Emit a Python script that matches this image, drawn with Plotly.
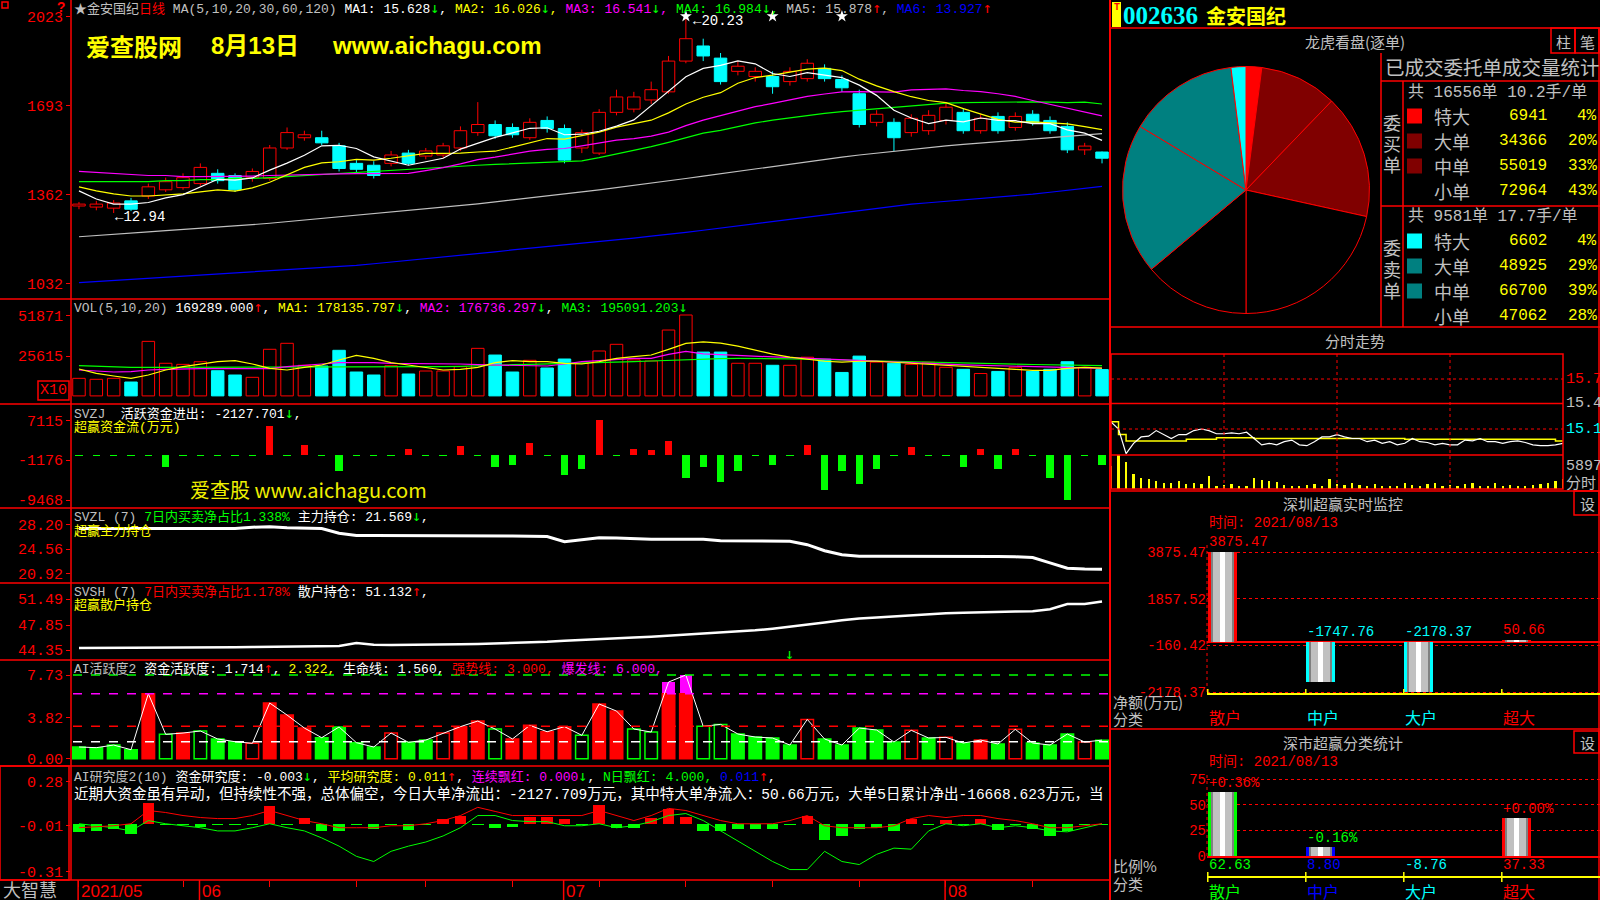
import plotly.graph_objects as go

# ======================= DATA =======================
month_labels = ["2021/05", "06", "07", "08"]
month_start = [0, 7, 28, 50]
week_ticks = [0, 6, 11, 16, 20, 25, 30, 35, 40, 45, 50, 55]

open_ = [13.20, 13.16, 13.12, 13.39, 13.57, 13.80, 13.88, 14.03, 14.41, 14.33,
         14.25, 14.22, 15.35, 15.73, 15.73, 15.43, 14.78, 14.71, 14.78, 15.16,
         15.05, 15.09, 15.35, 15.92, 16.22, 16.11, 15.73, 16.37, 16.07, 15.35,
         15.16, 16.67, 16.79, 17.13, 17.43, 18.57, 19.13, 18.68, 18.19, 18.00,
         18.00, 17.81, 17.92, 18.30, 17.89, 17.36, 16.30, 16.30, 15.92, 15.99,
         16.37, 16.67, 15.99, 16.52, 16.11, 16.60, 16.37, 16.15, 15.28, 15.20]
high_ = [13.35, 13.39, 13.42, 13.50, 14.03, 14.25, 14.41, 14.78, 14.56, 14.41,
         14.59, 15.46, 16.11, 15.99, 15.99, 15.54, 14.90, 14.86, 15.24, 15.28,
         15.35, 15.54, 16.15, 17.05, 16.37, 16.26, 16.45, 16.52, 16.22, 16.03,
         16.79, 17.51, 17.43, 17.81, 18.76, 20.23, 19.40, 18.87, 18.57, 18.34,
         18.19, 18.34, 18.64, 18.45, 18.04, 17.51, 16.75, 16.45, 16.60, 16.75,
         17.05, 16.83, 16.60, 16.67, 16.67, 16.75, 16.52, 16.30, 15.54, 15.22]
low_ = [13.08, 13.04, 12.94, 13.01, 13.46, 13.72, 13.80, 13.95, 14.03, 13.72,
        14.10, 14.14, 15.28, 15.62, 15.46, 14.48, 14.41, 14.22, 14.67, 14.71,
        14.93, 14.97, 15.24, 15.80, 15.69, 15.73, 15.65, 15.92, 14.78, 15.16,
        15.09, 16.56, 16.67, 16.98, 17.36, 18.49, 18.57, 17.70, 18.04, 17.81,
        17.36, 17.66, 17.81, 17.81, 17.43, 16.11, 16.15, 15.24, 15.77, 15.84,
        16.22, 15.88, 15.88, 15.88, 15.99, 16.18, 15.88, 15.16, 15.09, 14.78]
close_ = [13.27, 13.27, 13.31, 13.08, 13.91, 14.10, 14.25, 14.63, 14.14, 13.80,
          14.48, 15.35, 15.92, 15.84, 15.54, 14.59, 14.56, 14.33, 15.09, 14.78,
          15.24, 15.43, 15.99, 16.22, 15.80, 15.84, 16.30, 16.07, 14.90, 15.92,
          16.67, 17.24, 17.24, 17.51, 18.57, 19.40, 18.76, 17.81, 18.38, 18.19,
          17.62, 18.19, 18.49, 17.92, 17.58, 16.22, 16.60, 15.73, 16.45, 16.56,
          16.86, 15.99, 16.45, 15.99, 16.52, 16.30, 15.99, 15.28, 15.42, 14.97]

ma5 = [13.76, 13.46, 13.27, 13.27, 13.33, 13.50, 13.62, 13.92, 14.19, 14.16,
       14.24, 14.53, 14.79, 15.08, 15.43, 15.45, 15.33, 15.02, 14.87, 14.71,
       14.84, 14.97, 15.31, 15.53, 15.74, 15.91, 16.08, 16.10, 15.84, 15.86,
       15.97, 16.16, 16.39, 16.92, 17.45, 17.99, 18.30, 18.41, 18.58, 18.47,
       18.11, 18.00, 18.14, 18.04, 17.96, 17.68, 17.30, 16.75, 16.46, 16.25,
       16.38, 16.32, 16.46, 16.37, 16.36, 16.25, 16.25, 16.02, 15.90, 15.63]
ma10 = [13.91, 13.76, 13.65, 13.57, 13.57, 13.61, 13.65, 13.72, 13.80, 13.75,
        13.87, 14.08, 14.36, 14.63, 14.80, 14.84, 14.93, 14.90, 14.97, 15.07,
        15.15, 15.15, 15.16, 15.20, 15.23, 15.38, 15.53, 15.70, 15.68, 15.80,
        15.94, 16.12, 16.25, 16.38, 16.65, 16.98, 17.23, 17.40, 17.75, 17.96,
        18.05, 18.15, 18.27, 18.31, 18.22, 17.90, 17.65, 17.44, 17.25, 17.11,
        17.03, 16.81, 16.61, 16.41, 16.31, 16.32, 16.28, 16.24, 16.14, 16.03]
ma20 = [14.48, 14.44, 14.41, 14.37, 14.33, 14.33, 14.29, 14.29, 14.29, 14.29,
        14.31, 14.33, 14.35, 14.37, 14.38, 14.39, 14.40, 14.40, 14.41, 14.41,
        14.51, 14.62, 14.76, 14.92, 15.01, 15.11, 15.23, 15.30, 15.33, 15.43,
        15.54, 15.64, 15.70, 15.79, 15.94, 16.18, 16.38, 16.55, 16.72, 16.88,
        17.00, 17.14, 17.26, 17.35, 17.43, 17.44, 17.44, 17.42, 17.50, 17.53,
        17.54, 17.48, 17.44, 17.36, 17.26, 17.11, 16.97, 16.84, 16.69, 16.54]
ma30 = [14.10, 14.10, 14.10, 14.10, 14.10, 14.14, 14.14, 14.18, 14.18, 14.22,
        14.22, 14.25, 14.29, 14.33, 14.37, 14.41, 14.44, 14.48, 14.52, 14.56,
        14.59, 14.63, 14.67, 14.71, 14.74, 14.77, 14.80, 14.82, 14.85, 14.87,
        14.99, 15.12, 15.25, 15.40, 15.56, 15.73, 15.90, 16.00, 16.14, 16.28,
        16.38, 16.47, 16.56, 16.63, 16.70, 16.75, 16.80, 16.85, 16.89, 16.95,
        17.01, 17.03, 17.04, 17.03, 17.06, 17.06, 17.05, 17.03, 17.05, 16.98]
ma60 = [12.06, 12.10, 12.15, 12.19, 12.24, 12.29, 12.33, 12.38, 12.42, 12.47,
        12.51, 12.56, 12.62, 12.67, 12.72, 12.78, 12.84, 12.90, 12.96, 13.02,
        13.08, 13.15, 13.21, 13.28, 13.35, 13.42, 13.50, 13.57, 13.65, 13.72,
        13.80, 13.88, 13.97, 14.05, 14.14, 14.22, 14.31, 14.40, 14.49, 14.58,
        14.67, 14.75, 14.84, 14.92, 15.01, 15.09, 15.16, 15.22, 15.29, 15.36,
        15.43, 15.48, 15.53, 15.59, 15.64, 15.69, 15.74, 15.79, 15.84, 15.88]
ma120 = [10.36, 10.40, 10.44, 10.48, 10.51, 10.55, 10.59, 10.62, 10.66, 10.70,
         10.74, 10.78, 10.83, 10.87, 10.91, 10.96, 11.00, 11.06, 11.12, 11.19,
         11.25, 11.31, 11.38, 11.44, 11.50, 11.57, 11.63, 11.69, 11.76, 11.82,
         11.88, 11.95, 12.01, 12.08, 12.14, 12.22, 12.30, 12.38, 12.46, 12.54,
         12.62, 12.70, 12.78, 12.86, 12.94, 13.02, 13.11, 13.19, 13.27, 13.32,
         13.37, 13.42, 13.47, 13.52, 13.57, 13.64, 13.71, 13.78, 13.85, 13.93]
ma_names = ["MA1", "MA2", "MA3", "MA4", "MA5", "MA6"]
ma_last = ["15.628", "16.026", "16.541", "16.984", "15.878", "13.927"]
ma_dirs = ["↓", "↓", "↓", "↓", "↑", "↑"]
star_days = [40, 44]

price_ticks = [20.23, 16.93, 13.62, 10.32]
price_tick_text = ["2023", "1693", "1362", "1032"]

volume = [11300, 10680, 11300, 8940, 35100, 21000, 20300, 22000, 16200, 13450,
          11960, 30000, 33850, 19700, 19240, 29340, 15380, 13450, 19430, 14100,
          16020, 16020, 18800, 30600, 26300, 15380, 22900, 17950, 23750, 21000,
          28900, 33200, 23200, 22460, 42400, 52060, 28200, 28200, 21000, 21000,
          19700, 19700, 24900, 23600, 15100, 25600, 21700, 21000, 20300, 21700,
          18400, 17100, 14400, 15750, 18400, 15750, 17100, 22000, 18400, 16929]
vol_ma5 = [17310, 14540, 12800, 11300, 13450, 16670, 18800, 20530, 22030, 22670,
           20530, 17740, 16670, 18380, 19880, 23100, 26100, 24180, 21380, 19880,
           18380, 16670, 17100, 18380, 21380, 22670, 22030, 22030, 20960, 20530,
           22030, 24180, 25240, 26320, 29970, 33830, 34800, 34000, 32000, 29500,
           26900, 24900, 23600, 22300, 21700, 22300, 22300, 21700, 21000, 20300,
           19700, 19000, 18400, 17700, 17100, 16400, 16400, 17700, 18400, 17814]
vol_ma10 = [16670, 16030, 15380, 15600, 16670, 17100, 17530, 17530, 17530, 17530,
            17530, 17530, 18800, 19880, 20530, 21380, 21600, 21380, 20960, 20960,
            20960, 20960, 20530, 20100, 19880, 19240, 19240, 19240, 20530, 22030,
            22670, 23530, 24180, 24180, 26750, 28680, 27000, 26500, 26000, 25500,
            25000, 24500, 24000, 23500, 23000, 22500, 22000, 21500, 21000, 20700,
            20400, 20000, 19700, 19300, 19000, 18700, 18300, 18100, 17900, 17674]
vol_ma20 = [19450, 19000, 18600, 18380, 18380, 18380, 18380, 18380, 18600, 18810,
            18810, 18810, 18810, 18810, 18380, 18380, 18380, 18380, 18380, 18380,
            18600, 18810, 19000, 19450, 19880, 20100, 20300, 20530, 20750, 20960,
            21380, 21600, 22030, 22460, 22900, 23530, 23800, 24000, 24100, 24100,
            24000, 23800, 23600, 23300, 23000, 22700, 22400, 22100, 21800, 21500,
            21200, 21000, 20800, 20600, 20400, 20200, 20000, 19800, 19650, 19509]
vol_ticks = [51871, 25615]

svzj = [-400, -400, -400, -400, -400, -2550, -400, -400, -400, -400,
        -400, 5850, -400, 2000, -400, -3500, -400, -400, -400, 1170,
        -400, -400, 1800, -400, -2650, -2230, 2450, -400, -4350, -3080,
        7115, -400, 1170, 950, 2870, -4780, -2650, -5630, -3500, -400,
        -2230, -400, 2000, -7330, -3500, -6060, -3080, -400, 1600, -400,
        -400, -2650, 1170, -3080, 1170, -400, -4780, -9468, -400, -2127.7]
svzj_ticks = [7115, -1176, -9468]

svzl = [27.60, 27.60, 27.62, 27.62, 27.60, 27.60, 27.62, 27.62, 27.60, 27.62,
        27.80, 27.85, 27.70, 27.65, 27.60, 26.90, 26.55, 26.55, 26.55, 26.50,
        26.55, 26.55, 26.60, 26.60, 26.55, 26.50, 26.45, 26.40, 25.65, 25.90,
        26.24, 26.20, 26.05, 26.00, 26.00, 26.05, 26.00, 25.80, 25.80, 25.75,
        25.75, 25.70, 25.20, 24.30, 23.70, 23.50, 23.50, 23.50, 23.55, 23.50,
        23.45, 23.50, 23.50, 23.45, 23.40, 23.30, 22.50, 21.70, 21.60, 21.569]
svzl_ticks = [28.20, 24.56, 20.92]

svsh = [44.63, 44.63, 44.63, 44.65, 44.65, 44.63, 44.65, 44.68, 44.70, 44.72,
        44.77, 44.80, 44.82, 44.85, 44.88, 44.92, 45.34, 45.10, 45.06, 45.06,
        45.06, 45.10, 45.15, 45.20, 45.25, 45.34, 45.40, 45.50, 45.64, 45.78,
        45.92, 46.00, 46.10, 46.21, 46.35, 46.49, 46.65, 46.80, 46.92, 47.10,
        47.34, 47.60, 47.92, 48.20, 48.50, 48.77, 48.90, 49.05, 49.21, 49.35,
        49.49, 49.55, 49.64, 49.70, 49.75, 49.78, 50.06, 50.78, 50.78, 51.13]
svsh_ticks = [51.49, 47.85, 44.35]

ai_active = [1.08, 1.02, 1.26, 0.83, 6.00, 2.25, 2.37, 2.56, 1.82, 1.57,
             1.42, 5.14, 4.03, 2.83, 1.94, 2.93, 1.48, 1.08, 2.37, 1.51,
             1.72, 2.37, 2.96, 3.48, 2.74, 1.82, 3.08, 2.49, 2.96, 2.16,
             5.05, 4.40, 2.74, 2.46, 7.08, 7.73, 2.99, 3.17, 2.28, 2.00,
             1.91, 1.26, 3.63, 1.82, 1.26, 2.83, 2.65, 1.54, 2.62, 1.91,
             1.97, 1.45, 1.72, 1.36, 2.71, 1.45, 1.26, 2.28, 1.54, 1.714]
ai_kind = ["G", "G", "G", "G", "R", "g", "R", "g", "G", "G",
           "r", "R", "R", "R", "G", "G", "G", "G", "r", "G",
           "G", "r", "R", "R", "g", "R", "R", "R", "R", "g",
           "R", "R", "g", "g", "R", "R", "g", "g", "G", "G",
           "G", "G", "r", "G", "G", "G", "G", "G", "r", "G",
           "r", "G", "R", "G", "r", "G", "G", "G", "r", "G"]
life_line, strong_line, burst_line, top_line = 1.560, 3.000, 6.000, 7.73
ai1_ticks = [7.73, 3.82, 0.00]
arrow_days = [41]

ai_research = [-0.050, -0.044, -0.030, -0.064, 0.137, -0.008, -0.008, -0.017, -0.008, -0.008,
               -0.008, 0.117, -0.008, 0.044, -0.044, -0.044, -0.008, -0.030, -0.008, -0.037,
               -0.008, 0.037, 0.057, -0.008, -0.023, -0.017, 0.050, 0.050, 0.037, -0.008,
               0.124, -0.023, -0.023, 0.044, 0.097, 0.050, -0.044, -0.044, -0.030, -0.030,
               -0.030, -0.008, 0.057, -0.104, -0.077, -0.030, -0.023, -0.044, 0.037, -0.008,
               0.030, -0.008, 0.037, -0.037, -0.008, -0.030, -0.077, -0.044, -0.008, -0.006]
research_green = [0.003, -0.010, -0.023, -0.044, 0.024, 0.003, -0.010, -0.023, -0.044, -0.044,
                  -0.023, 0.003, -0.023, -0.044, -0.090, -0.144, -0.211, -0.245, -0.178, -0.144,
                  -0.117, -0.077, -0.023, 0.057, 0.057, 0.024, 0.017, 0.017, -0.010, -0.010,
                  0.003, -0.023, -0.010, 0.017, 0.057, 0.070, 0.024, -0.044, -0.111, -0.178,
                  -0.245, -0.298, -0.298, -0.178, -0.245, -0.265, -0.198, -0.157, -0.164, -0.044,
                  0.003, -0.010, 0.003, -0.023, -0.010, -0.023, -0.044, -0.050, -0.023, 0.003]
research_red = [-0.023, -0.017, -0.010, 0.003, 0.090, 0.077, 0.057, 0.044, 0.037, 0.037,
                0.057, 0.090, 0.057, 0.024, 0.003, -0.023, -0.023, -0.023, -0.010, -0.010,
                0.003, 0.024, 0.057, 0.111, 0.084, 0.057, 0.057, 0.057, 0.057, 0.057,
                0.090, 0.057, 0.024, 0.057, 0.104, 0.090, 0.057, 0.024, 0.003, 0.003,
                0.003, 0.024, 0.057, -0.010, -0.023, -0.023, -0.023, -0.010, 0.037, 0.057,
                0.044, 0.057, 0.057, 0.037, 0.024, 0.003, -0.023, -0.023, -0.010, 0.003]
ai2_ticks = [0.28, -0.01, -0.31]

# right side
stock_code = "002636"
stock_name = "金安国纪"
order_labels = ["特大", "大单", "中单", "小单"]
buy_counts = [6941, 34366, 55019, 72964]
buy_pct = ["4%", "20%", "33%", "43%"]
sell_counts = [6602, 48925, 66700, 47062]
sell_pct = ["4%", "29%", "39%", "28%"]
buy_summary = "共 16556单 10.2手/单"
sell_summary = "共 9581单 17.7手/单"

tick_price = [15.19, 15.10, 14.79, 14.92, 15.00, 15.01, 15.08, 15.03, 14.98, 15.03,
              15.03, 15.08, 15.10, 15.08, 15.04, 15.04, 15.05, 15.04, 15.06, 14.98,
              14.90, 14.92, 14.90, 14.94, 14.96, 14.90, 14.89, 14.94, 15.00, 15.00,
              15.03, 15.00, 14.98, 14.98, 14.94, 14.96, 14.92, 14.94, 14.90, 14.92,
              14.98, 14.94, 14.93, 14.90, 14.92, 14.90, 14.90, 14.96, 14.95, 14.98,
              14.94, 14.94, 14.92, 14.94, 14.95, 14.93, 14.90, 14.89, 14.89, 14.90,
              14.92]
avg_price = [15.19, 15.03, 14.95, 14.95, 14.95, 14.95, 14.95, 14.95, 14.95, 14.95,
             14.97, 14.97, 14.97, 14.97, 14.99, 14.99, 14.99, 14.99, 14.99, 14.98,
             14.98, 14.98, 14.98, 14.98, 14.98, 14.98, 14.98, 14.98, 14.98, 14.98,
             14.98, 14.98, 14.98, 14.98, 14.98, 14.98, 14.98, 14.98, 14.98, 14.97,
             14.97, 14.97, 14.97, 14.97, 14.97, 14.97, 14.97, 14.97, 14.97, 14.97,
             14.97, 14.97, 14.97, 14.97, 14.97, 14.97, 14.97, 14.97, 14.97, 14.95,
             14.95]
tick_vol = [3930, 5897, 4770, 2530, 1970, 1690, 1400, 1120, 1120, 1400,
            840, 1120, 840, 2250, 560, 670, 840, 560, 450, 1970,
            1570, 1400, 1240, 670, 560, 560, 670, 840, 560, 1690,
            840, 670, 1120, 670, 450, 840, 560, 450, 560, 1120,
            670, 560, 840, 1120, 450, 670, 560, 840, 1120, 560,
            450, 1120, 560, 670, 450, 560, 670, 840, 1120, 1400,
            1690]
intraday_levels = [15.73, 15.42, 15.10]

net_cats = ["散户", "中户", "大户", "超大"]
sz_net = [3875.47, -1747.76, -2178.37, 50.66]
sz_ticks = [3875.47, 1857.52, -160.42, -2178.37]
ss_ratio = [62.63, 8.80, -8.76, 37.33]
ss_change = ["+0.36%", "-0.16%", "", "+0.00%"]
ss_ticks = [0, 25, 50, 75]
report_date = "2021/08/13"

# ======================= HELPERS =======================
N = len(close_)
days = list(range(N))
W, H = 1600, 900


def PX(x):
    return x / W


def PY(y):
    return 1 - y / H


def lin_range(v1, p1, v2, p2, top, bot):
    k = (p2 - p1) / (v1 - v2)
    return [v2 - (bot - p2) / k, v1 + (p1 - top) / k]


RED = "#ff0000"; DRED = "#800000"; CYAN = "#00ffff"; TEAL = "#008080"
GREEN = "#00ff00"; YELLOW = "#ffff00"; MAGENTA = "#ff00ff"; WHITE = "#ffffff"
GRAY = "#c0c0c0"; BLUE = "#0000ff"; DGRAY = "#808080"; BLACK = "#000000"
MONO = "Liberation Mono, Noto Sans CJK SC, monospace"
CJK = "Noto Sans CJK SC, sans-serif"
NARROW = "Liberation Sans Narrow, Liberation Sans, sans-serif"

fig = go.Figure()
shapes, anns = [], []


def sp(t, c):
    return f'<span style="color:{c}">{t}</span>'


def ar(t, c):
    return f'<span style="color:{c};font-family:DejaVu Sans Mono;font-size:15px">{t}</span>'


def A(text, x, y, color=WHITE, size=13, family=MONO, xanchor="left", yanchor="middle",
      xref="paper", yref="paper", bold=False, yshift=0):
    anns.append(dict(text=text, x=PX(x) if xref == "paper" else x, y=PY(y) if yref == "paper" else y,
                     xref=xref, yref=yref, xanchor=xanchor, yanchor=yanchor, showarrow=False,
                     yshift=yshift, borderpad=0,
                     font=dict(color=color, size=size, family=family, weight="bold" if bold else "normal")))


def L(x0, y0, x1, y1, color=RED, width=1.5, dash="solid", xref="paper", yref="paper"):
    shapes.append(dict(type="line", xref=xref, yref=yref,
                       x0=PX(x0) if xref == "paper" else x0, x1=PX(x1) if xref == "paper" else x1,
                       y0=PY(y0) if yref == "paper" else y0, y1=PY(y1) if yref == "paper" else y1,
                       line=dict(color=color, width=width, dash=dash), layer="above"))


def RECT(x0, y0, x1, y1, color=RED, width=1.5, fill="rgba(0,0,0,0)"):
    shapes.append(dict(type="rect", xref="paper", yref="paper", x0=PX(x0), x1=PX(x1), y0=PY(y0), y1=PY(y1),
                       line=dict(color=color, width=width), fillcolor=fill, layer="above"))


def add(tr):
    tr.update(hoverinfo="skip", showlegend=False)
    fig.add_trace(tr)


# ======================= MAIN (LEFT) PANELS =======================
X_L, X_R = 71, 1110
axes = {}
axes["xaxis"] = dict(domain=[PX(X_L), PX(X_R)], range=[-0.46, N - 0.54], anchor="y7",
                     tickvals=week_ticks, ticks="outside", ticklen=6, tickcolor=RED, tickwidth=1,
                     showticklabels=False, showgrid=False, zeroline=False, showline=False,
                     fixedrange=True, automargin=False)
main_panels = [
    ("yaxis", 0, 299, lin_range(20.23, 16.3, 10.32, 283.7, 0, 299), price_ticks, price_tick_text),
    ("yaxis2", 299, 404, lin_range(51871, 315.3, 25615, 356.1, 299, 404), vol_ticks, [str(v) for v in vol_ticks]),
    ("yaxis3", 404, 508, lin_range(7115, 420.4, -9468, 500.0, 404, 508), svzj_ticks, [str(v) for v in svzj_ticks]),
    ("yaxis4", 508, 583, lin_range(28.20, 524.5, 20.92, 573.5, 508, 583), svzl_ticks, [f"{v:.2f}" for v in svzl_ticks]),
    ("yaxis5", 583, 660, lin_range(51.49, 599, 44.35, 650, 583, 660), svsh_ticks, [f"{v:.2f}" for v in svsh_ticks]),
    ("yaxis6", 660, 766, lin_range(7.73, 675, 0.0, 758.7, 660, 766), ai1_ticks, [f"{v:.2f}" for v in ai1_ticks]),
    ("yaxis7", 766, 880, lin_range(0.28, 781.6, -0.31, 871.4, 766, 880), ai2_ticks, [f"{v:.2f}" for v in ai2_ticks]),
]
for key, top, bot, rng, tv, tt in main_panels:
    axes[key] = dict(domain=[PY(bot), PY(top)], range=rng, anchor="x", tickvals=tv, ticktext=tt,
                     ticks="outside", ticklen=4, tickcolor=RED,
                     tickfont=dict(color=RED, size=15, family=MONO),
                     showgrid=False, zeroline=False, showline=False, fixedrange=True, automargin=False)

# --- candles ---
up = [c >= o for o, c in zip(open_, close_)]
for flag, col in ((True, RED), (False, CYAN)):
    xs, ys = [], []
    for i in days:
        if up[i] != flag:
            continue
        top, bot = max(open_[i], close_[i]), min(open_[i], close_[i])
        xs += [i, i, None, i, i, None]
        ys += [high_[i], top, None, bot, low_[i], None]
    add(go.Scatter(x=xs, y=ys, mode="lines", line=dict(color=col, width=1), xaxis="x", yaxis="y"))
    idx = [i for i in days if up[i] == flag]
    add(go.Bar(x=idx, base=[min(open_[i], close_[i]) for i in idx],
               y=[max(abs(close_[i] - open_[i]), 0.02) for i in idx], width=0.72,
               marker=dict(color=BLACK if flag else CYAN, line=dict(color=col, width=1)),
               xaxis="x", yaxis="y"))
for arr, col in ((ma120, BLUE), (ma60, GRAY), (ma30, GREEN), (ma20, MAGENTA), (ma10, YELLOW), (ma5, WHITE)):
    add(go.Scatter(x=days, y=arr, mode="lines", line=dict(color=col, width=1.2), xaxis="x", yaxis="y"))
i_hi = max(days, key=lambda i: high_[i])
i_lo = min(days, key=lambda i: low_[i])
add(go.Scatter(x=[i_hi] + star_days, y=[high_[i_hi]] * (1 + len(star_days)), mode="markers",
               marker=dict(symbol="star", size=9, color=WHITE), xaxis="x", yaxis="y"))
A(f"←{high_[i_hi]:.2f}", i_hi + 0.35, high_[i_hi], WHITE, 14, xref="x", yref="y", yshift=-5)
A(f"←{low_[i_lo]:.2f}", i_lo, low_[i_lo], WHITE, 14, xref="x", yref="y", yshift=-4)

# --- volume ---
for flag, col in ((True, RED), (False, CYAN)):
    idx = [i for i in days if up[i] == flag]
    add(go.Bar(x=idx, y=[volume[i] for i in idx], width=0.72,
               marker=dict(color=BLACK if flag else CYAN, line=dict(color=col, width=1)),
               xaxis="x", yaxis="y2"))
for arr, col in ((vol_ma20, GREEN), (vol_ma10, MAGENTA), (vol_ma5, YELLOW)):
    add(go.Scatter(x=days, y=arr, mode="lines", line=dict(color=col, width=1.2), xaxis="x", yaxis="y2"))

# --- SVZJ ---
add(go.Bar(x=days, y=svzj, width=0.42, marker=dict(color=[RED if v > 0 else GREEN for v in svzj], line=dict(width=0)),
           xaxis="x", yaxis="y3"))
# --- SVZL / SVSH ---
add(go.Scatter(x=days, y=svzl, mode="lines", line=dict(color=WHITE, width=3), xaxis="x", yaxis="y4"))
add(go.Scatter(x=days, y=svsh, mode="lines", line=dict(color=WHITE, width=2.5), xaxis="x", yaxis="y5"))

# --- AI活跃度 ---
burst_idx = [i for i in days if ai_active[i] > burst_line]
add(go.Bar(x=burst_idx, y=[ai_active[i] for i in burst_idx], width=0.72,
           marker=dict(color=MAGENTA, line=dict(width=0)), xaxis="x", yaxis="y6"))
kind_col = [RED if k in "Rr" else GREEN for k in ai_kind]
kind_fill = [c if k.isupper() else BLACK for k, c in zip(ai_kind, kind_col)]
add(go.Bar(x=days, y=[min(v, burst_line) for v in ai_active], width=0.72,
           marker=dict(color=kind_fill, line=dict(color=kind_col, width=1.5)), xaxis="x", yaxis="y6"))
add(go.Scatter(x=days, y=ai_active, mode="lines", line=dict(color=WHITE, width=1), xaxis="x", yaxis="y6"))
for lvl, col in ((top_line, GREEN), (burst_line, MAGENTA), (strong_line, RED), (life_line, WHITE)):
    L(X_L + 2, lvl, X_R - 2, lvl, color=col, width=1.5, dash="dash", yref="y6")
for d in arrow_days:
    A(ar("↓", GREEN), d, 654, GREEN, 15, xref="x", xanchor="center")

# --- AI研究度 ---
add(go.Bar(x=days, y=ai_research, width=0.66,
           marker=dict(color=[RED if v > 0 else GREEN for v in ai_research], line=dict(width=0)),
           xaxis="x", yaxis="y7"))
add(go.Scatter(x=days, y=research_green, mode="lines", line=dict(color=GREEN, width=1), xaxis="x", yaxis="y7"))
add(go.Scatter(x=days, y=research_red, mode="lines", line=dict(color=RED, width=1), xaxis="x", yaxis="y7"))

# --- main frame lines ---
for yy in (299, 404, 508, 583, 660, 766, 880):
    L(0, yy, X_R, yy, width=1.5)
L(X_L, 0, X_L, 880, width=1.5)
L(X_R, 0, X_R, 900, width=2)
RECT(0, 766, 69, 880)
RECT(38, 381, 69, 400)
A("X10", 53.5, 391, RED, 15, xanchor="center")
RECT(2, 2, 8, 8, width=1.5)
A("?", 61, 8, RED, 14, bold=True, xanchor="center")
for lbl, d in zip(month_labels, month_start):
    L(d - 0.05, 880, d - 0.05, 900, xref="x", width=1.5)
    A(lbl, d + 0.05, 891, RED, 17, family=NARROW, xref="x")
A("大智慧", 2, 889, GRAY, 18, family=CJK)

# --- headers ---
hdr = sp("★金安国纪", GRAY) + sp("日线", RED) + sp(" MA(5,10,20,30,60,120) ", GRAY)
ma_cols = [WHITE, YELLOW, MAGENTA, GREEN, GRAY, BLUE]
for k, (nm, v, d, c) in enumerate(zip(ma_names, ma_last, ma_dirs, ma_cols)):
    hdr += sp(f"{nm}: {v}", c) + ar(d, GREEN if d == "↓" else RED) + (sp(", ", c) if k < 5 else "")
A(hdr, 73, 8, GRAY, 13)
A("爱查股网", 85, 45, YELLOW, 24, family=CJK, bold=True)
A("8月13日", 210, 45, YELLOW, 24, family="Liberation Sans, Noto Sans CJK SC", bold=True)
A("www.aichagu.com", 331, 45, YELLOW, 24, family="Liberation Sans", bold=True)

A(sp("VOL(5,10,20) ", GRAY) + sp("169289.000", WHITE) + ar("↑", RED) + sp(", ", WHITE)
  + sp("MA1: 178135.797", YELLOW) + ar("↓", GREEN) + sp(", ", WHITE)
  + sp("MA2: 176736.297", MAGENTA) + ar("↓", GREEN) + sp(", ", WHITE)
  + sp("MA3: 195091.203", GREEN) + ar("↓", GREEN), 73, 307, GRAY, 13)
A(sp("SVZJ", GRAY) + sp("\u00a0\u00a0活跃资金进出: -2127.701", WHITE) + ar("↓", GREEN) + sp(",", WHITE), 73, 413, GRAY, 13)
A("超赢资金流(万元)", 73, 427, YELLOW, 13)
A("爱查股 www.aichagu.com", 189, 489, "#f0f000", 20, family=CJK)
A(sp("SVZL (7) ", GRAY) + sp("7日内买卖净占比1.338%", GREEN) + sp(" 主力持仓: 21.569", WHITE)
  + ar("↓", GREEN) + sp(",", WHITE), 73, 516, GRAY, 13)
A("超赢主力持仓", 73, 531, YELLOW, 13)
A(sp("SVSH (7) ", GRAY) + sp("7日内买卖净占比1.178%", RED) + sp(" 散户持仓: 51.132", WHITE)
  + ar("↑", RED) + sp(",", WHITE), 73, 591, GRAY, 13)
A("超赢散户持仓", 73, 605, YELLOW, 13)
A(sp("AI活跃度2 ", GRAY) + sp("资金活跃度: 1.714", WHITE) + ar("↑", RED) + sp(", ", WHITE)
  + sp("2.322, ", YELLOW) + sp("生命线: 1.560, ", WHITE) + sp("强势线: 3.000, ", RED)
  + sp("爆发线: 6.000,", MAGENTA), 73, 668, GRAY, 13)
A(sp("AI研究度2(10) ", GRAY) + sp("资金研究度: -0.003", WHITE) + ar("↓", GREEN) + sp(", ", WHITE)
  + sp("平均研究度: 0.011", YELLOW) + ar("↑", RED) + sp(", ", WHITE)
  + sp("连续飘红: 0.000", MAGENTA) + ar("↓", GREEN) + sp(", ", WHITE)
  + sp("N日飘红: 4.000, ", GREEN) + sp("0.011", BLUE) + ar("↑", RED) + sp(",", WHITE), 73, 776, GRAY, 13)
A("近期大资金虽有异动，但持续性不强，总体偏空，今日大单净流出：-2127.709万元，其中特大单净流入：50.66万元，"
  "大单5日累计净出-16668.623万元，当", 73, 794, WHITE, 14.5)

# ======================= RIGHT PANEL =======================
L(1110, 28, 1600, 28); L(1110, 327, 1600, 327); L(1110, 491, 1600, 491); L(1110, 729, 1600, 729)
L(1599, 28, 1599, 900)
RECT(1112, 2, 1121, 27, color=YELLOW, width=0, fill=YELLOW)
A("T", 1116.5, 8, RED, 10, bold=True, xanchor="center")
A(stock_code, 1122, 15, CYAN, 25, family="Liberation Serif, serif", bold=True)
A(stock_name, 1205, 15, YELLOW, 20, family=CJK, bold=True)

A("龙虎看盘(逐单)", 1355, 41, GRAY, 15, family=CJK, xanchor="center")
RECT(1551, 28, 1575, 53); RECT(1575, 28, 1599, 53)
A("柱", 1563, 41, GRAY, 15, family=CJK, xanchor="center")
A("笔", 1587, 41, GRAY, 15, family=CJK, xanchor="center")

# pie
pie_vals = buy_counts + sell_counts[::-1]
pie_cols = [RED, DRED, DRED, BLACK, BLACK, TEAL, TEAL, CYAN]
fig.add_trace(go.Pie(values=pie_vals, labels=[f"b{k}" for k in range(4)] + [f"s{k}" for k in range(4)],
                     marker=dict(colors=pie_cols, line=dict(color=RED, width=1)), sort=False,
                     direction="clockwise", rotation=0, textinfo="none", hoverinfo="skip", showlegend=False,
                     domain=dict(x=[PX(1122.5), PX(1369.5)], y=[PY(313.5), PY(66.5)])))

# table
L(1381, 53, 1381, 327); L(1381, 81, 1600, 81); L(1381, 206, 1600, 206); L(1403, 81, 1403, 327)
A("已成交委托单成交量统计", 1384, 66, GRAY, 19.5, family=CJK)
A(buy_summary, 1407, 92, GRAY, 16)
A(sell_summary, 1407, 217, GRAY, 16)
for k, ch in enumerate("委买单"):
    A(ch, 1392, 122 + 21 * k, GRAY, 18, family=CJK, xanchor="center")
for k, ch in enumerate("委卖单"):
    A(ch, 1392, 247 + 21.5 * k, GRAY, 18, family=CJK, xanchor="center")
buy_sw = [RED, DRED, DRED, None]
sell_sw = [CYAN, TEAL, TEAL, None]
for rows_y, counts, pcts, sw in (([116, 141, 166, 191], buy_counts, buy_pct, buy_sw),
                                 ([241, 266, 291, 316], sell_counts, sell_pct, sell_sw)):
    for yy, lbl, cnt, pc, c in zip(rows_y, order_labels, counts, pcts, sw):
        if c:
            RECT(1407, yy - 7.5, 1422, yy + 7.5, color=c, width=0, fill=c)
        A(lbl, 1433, yy, GRAY, 18, family=CJK)
        A(str(cnt), 1548, yy, YELLOW, 16, xanchor="right")
        A(pc, 1598, yy, YELLOW, 16, xanchor="right")

# 分时走势
nI = len(tick_price)
tx = list(range(nI))
axes["xaxis2"] = dict(domain=[PX(1111), PX(1563)], range=[0, nI - 1], anchor="y8", visible=False, fixedrange=True)
axes["yaxis8"] = dict(domain=[PY(455), PY(354)], range=lin_range(15.73, 379, 15.10, 429, 354, 455),
                      anchor="x2", visible=False, fixedrange=True)
axes["yaxis9"] = dict(domain=[PY(489), PY(455)], range=[0, max(tick_vol)], anchor="x2", visible=False, fixedrange=True)
A("分时走势", 1355, 340, GRAY, 15, family=CJK, xanchor="center")
RECT(1111, 354, 1563, 489)
L(1111, 455, 1563, 455)
lvl_cols = [RED, GRAY, CYAN]
for lvl, c in zip(intraday_levels, lvl_cols):
    mid = c == GRAY
    L(1111, lvl, 1563, lvl, width=1.5 if mid else 1, dash="solid" if mid else "dot", yref="y8")
    A(f"{lvl:.2f}", 1565, lvl, c, 15, yref="y8")
for q in (0.25, 0.5, 0.75):
    L(q * (nI - 1), 354, q * (nI - 1), 489, width=1, dash="dot", xref="x2")
A(str(max(tick_vol)), 1565, 466, GRAY, 15)
A("分时", 1565, 481, GRAY, 15, family=CJK)
add(go.Bar(x=tx, y=tick_vol, width=0.3, marker=dict(color=YELLOW, line=dict(width=0)), xaxis="x2", yaxis="y9"))
add(go.Scatter(x=tx, y=avg_price, mode="lines", line=dict(color=YELLOW, width=1.5, shape="hv"), xaxis="x2", yaxis="y8"))
add(go.Scatter(x=tx, y=tick_price, mode="lines", line=dict(color=WHITE, width=1.2), xaxis="x2", yaxis="y8"))

# 3D style bars
BW = 0.30


def bars3d(xa, ya, vals, edges):
    xs = list(range(len(vals)))
    for col, w in ((edges, BW), (DGRAY, BW * 0.78), (GRAY, BW * 0.62), (WHITE, BW * 0.18)):
        add(go.Bar(x=xs, y=vals, width=w, marker=dict(color=col, line=dict(width=0)), xaxis=xa, yaxis=ya))


cat_range = [-0.158, 3.852]
# 深圳超赢实时监控
A("深圳超赢实时监控", 1343, 503, GRAY, 15, family=CJK, xanchor="center")
RECT(1574, 491, 1599, 515)
A("设", 1587, 503, GRAY, 15, family=CJK, xanchor="center")
A("时间: " + report_date, 1208, 523, RED, 14)
axes["xaxis3"] = dict(domain=[PX(1207), PX(1600)], range=cat_range, anchor="y10", visible=False, fixedrange=True)
axes["yaxis10"] = dict(domain=[PY(700), PY(530)], range=lin_range(3875.47, 552, -2178.37, 692, 530, 700),
                       anchor="x3", tickvals=sz_ticks, ticktext=[f"{v:.2f}" for v in sz_ticks],
                       tickfont=dict(color=RED, size=14, family=MONO), ticks="", showline=False,
                       showgrid=True, gridcolor=RED, griddash="dot", gridwidth=1,
                       zeroline=True, zerolinecolor=RED, zerolinewidth=2, fixedrange=True, automargin=False)
sz_edge = [RED if v >= 0 else CYAN for v in sz_net]
bars3d("x3", "y10", sz_net, sz_edge)
L(1207, 545, 1207, 694, width=1, dash="dot")
L(1207, 694, 1600, 694, color=YELLOW, width=2)
for i, (cat, v, c) in enumerate(zip(net_cats, sz_net, sz_edge)):
    L(i - BW / 2, 689, i - BW / 2, 694, color=YELLOW, width=1.5, xref="x3")
    A(f"{v:.2f}", i - BW / 2, max(v, 0), c, 14, xref="x3", yref="y10", yshift=10)
    A(cat, i - BW / 2, 717, c, 16, family=CJK, xref="x3")
A("净额(万元)", 1112, 701, GRAY, 15, family=CJK)
A("分类", 1112, 718, GRAY, 15, family=CJK)

# 深市超赢分类统计
ss_cols = [GREEN, BLUE, CYAN, RED]
A("深市超赢分类统计", 1343, 742, GRAY, 15, family=CJK, xanchor="center")
RECT(1574, 731, 1599, 753)
A("设", 1587, 742, GRAY, 15, family=CJK, xanchor="center")
A("时间: " + report_date, 1208, 762, RED, 14)
axes["xaxis4"] = dict(domain=[PX(1207), PX(1600)], range=cat_range, anchor="y11", showline=True,
                      linecolor=RED, linewidth=2, showticklabels=False, ticks="", showgrid=False,
                      zeroline=False, fixedrange=True, automargin=False)
axes["yaxis11"] = dict(domain=[PY(856), PY(770)], range=lin_range(75, 779, 0, 856, 770, 856),
                       anchor="x4", tickvals=ss_ticks, ticktext=[str(v) for v in ss_ticks],
                       tickfont=dict(color=RED, size=14, family=MONO), ticks="", showline=False,
                       showgrid=True, gridcolor=RED, griddash="dot", gridwidth=1, zeroline=False,
                       fixedrange=True, automargin=False)
bars3d("x4", "y11", ss_ratio, ss_cols)
L(1207, 775, 1207, 856, width=1, dash="dot")
L(1207, 877, 1600, 877, color=YELLOW, width=2)
for i, (cat, v, ch, c) in enumerate(zip(net_cats, ss_ratio, ss_change, ss_cols)):
    L(i - BW / 2, 872, i - BW / 2, 882, color=YELLOW, width=1.5, xref="x4")
    if ch:
        A(ch, i - BW / 2, max(v, 0), GREEN if ch.startswith("-") else RED, 14, xref="x4", yref="y11", yshift=9)
    A(f"{v:.2f}", i - BW / 2, 865, c, 14, xref="x4")
    A(cat, i - BW / 2, 891, c, 16, family=CJK, xref="x4")
A("比例%", 1112, 865, GRAY, 15, family=CJK)
A("分类", 1112, 883, GRAY, 15, family=CJK)

# ======================= LAYOUT =======================
fig.update_layout(width=W, height=H, autosize=False,
                  margin=dict(l=0, r=0, t=0, b=0, pad=0, autoexpand=False),
                  paper_bgcolor=BLACK, plot_bgcolor=BLACK, showlegend=False, hovermode=False,
                  barmode="overlay", bargap=0, shapes=shapes, annotations=anns, **axes)
post = """
document.documentElement.style.margin='0';
document.body.style.margin='0';
document.body.style.overflow='hidden';
"""
fig.write_html("out.html", include_plotlyjs=True, full_html=True,
               config={"displayModeBar": False, "staticPlot": True}, post_script=post)
